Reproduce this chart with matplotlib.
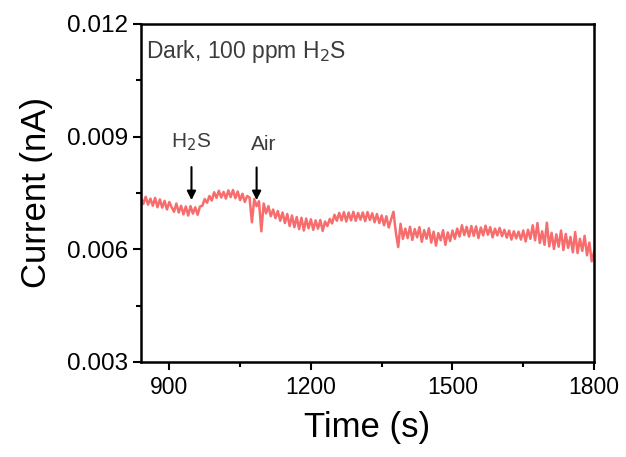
import matplotlib.pyplot as plt
from matplotlib.ticker import MultipleLocator

# tempo (s), passo de 5 s
t_start = 840
t_step = 5

# corrente (nA)
current = [
    0.00738, 0.00721, 0.00740, 0.00719, 0.00735, 0.00716, 0.00737, 0.00712,
    0.00733, 0.00711, 0.00729, 0.00706, 0.00726, 0.00712, 0.00700, 0.00722,
    0.00698, 0.00716, 0.00693, 0.00714, 0.00690, 0.00715,
    0.00695, 0.00712, 0.00692, 0.00714,
    0.00716, 0.00734, 0.00724, 0.00742, 0.00730, 0.00752, 0.00737, 0.00756,
    0.00738, 0.00753, 0.00735, 0.00757, 0.00739, 0.00758, 0.00736, 0.00754,
    0.00731, 0.00748, 0.00726, 0.00742,
    0.00738, 0.00672, 0.00734, 0.00715, 0.00728, 0.00648, 0.00722,
    0.00696, 0.00715, 0.00688, 0.00706, 0.00683, 0.00702, 0.00676, 0.00698,
    0.00670, 0.00694, 0.00662, 0.00690, 0.00659, 0.00686, 0.00654, 0.00684,
    0.00650, 0.00682, 0.00656, 0.00680, 0.00652, 0.00677, 0.00655, 0.00678,
    0.00649, 0.00674,
    0.00662, 0.00681, 0.00669, 0.00692, 0.00676, 0.00697, 0.00677, 0.00699,
    0.00674, 0.00698, 0.00677, 0.00700, 0.00676, 0.00697, 0.00679, 0.00698,
    0.00675, 0.00699, 0.00678, 0.00696, 0.00672, 0.00694, 0.00670, 0.00690,
    0.00664, 0.00688, 0.00658, 0.00680,
    0.00700, 0.00645, 0.00606, 0.00668, 0.00628,
    0.00655, 0.00630, 0.00660, 0.00625, 0.00654, 0.00632, 0.00659, 0.00620,
    0.00651, 0.00628, 0.00656, 0.00618, 0.00647, 0.00610, 0.00643, 0.00624,
    0.00651, 0.00612, 0.00645, 0.00622, 0.00650, 0.00628, 0.00655, 0.00634,
    0.00664, 0.00638, 0.00660, 0.00634, 0.00662, 0.00636, 0.00661, 0.00630,
    0.00658, 0.00637, 0.00663, 0.00639, 0.00659, 0.00632, 0.00655, 0.00637,
    0.00657, 0.00635, 0.00652, 0.00631, 0.00650, 0.00626, 0.00648, 0.00629,
    0.00647, 0.00626, 0.00650, 0.00621, 0.00652,
    0.00628, 0.00664, 0.00624, 0.00670, 0.00617, 0.00648, 0.00612, 0.00671,
    0.00608, 0.00644, 0.00601, 0.00640, 0.00607, 0.00650, 0.00598, 0.00641,
    0.00604, 0.00633, 0.00592, 0.00646, 0.00590, 0.00628, 0.00596, 0.00636,
    0.00584, 0.00618, 0.00568, 0.00594,
]
time = [t_start + i * t_step for i in range(len(current))]

# setas: (rotulo, tempo da seta, ponta, topo, x do rotulo, y do rotulo)
eventos = [
    ("H$_2$S", 947, 0.00731, 0.00819, 947, 0.00886),
    ("Air", 1085, 0.00731, 0.00818, 1100, 0.00880),
]

plt.rcParams["font.family"] = ["Liberation Sans", "DejaVu Sans"]

fig = plt.figure(figsize=(6.26, 4.57), dpi=100)
ax = fig.add_axes([0.2252, 0.2079, 0.7238, 0.7396])

ax.plot(time, current, color="#f76c6c", linewidth=1.8)

ax.set_xlim(840, 1800)
ax.set_ylim(0.003, 0.012)
ax.xaxis.set_major_locator(MultipleLocator(300))
ax.xaxis.set_minor_locator(MultipleLocator(150))
ax.yaxis.set_minor_locator(MultipleLocator(0.0015))
ax.set_yticks([0.003, 0.006, 0.009, 0.012])
ax.set_yticklabels(["0.003", "0.006", "0.009", "0.012"])

ax.tick_params(which="major", length=6, width=1.5, labelsize=16.5, pad=4)
ax.tick_params(which="minor", length=3.5, width=1.5)
ax.tick_params(axis="y", labelsize=17.5, pad=3)
for s in ax.spines.values():
    s.set_linewidth(1.8)

ax.set_xlabel("Time (s)", fontsize=25, labelpad=9)
ax.set_ylabel("Current (nA)", fontsize=25, labelpad=10)

ax.text(0.012, 0.96, "Dark, 100 ppm H$_2$S", transform=ax.transAxes,
        fontsize=16.5, color="#3c3c3c", va="top", ha="left")

for rotulo, tx, ponta, topo, lx, ly in eventos:
    ax.annotate("", xy=(tx, ponta), xytext=(tx, topo),
                arrowprops=dict(arrowstyle="-|>", color="black", lw=1.5,
                                mutation_scale=13, shrinkA=0, shrinkB=0))
    ax.text(lx, ly, rotulo, fontsize=15, color="#3c3c3c",
            ha="center", va="center")

plt.savefig("out.png", dpi=100)
